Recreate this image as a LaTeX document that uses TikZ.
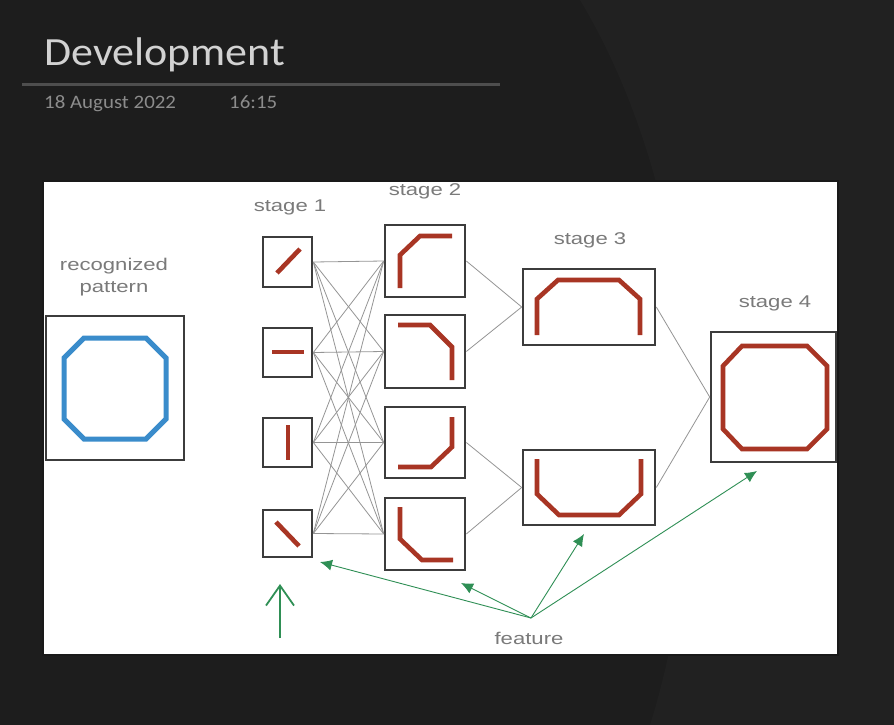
\documentclass[tikz,border=0pt]{standalone}
\usepackage{fontspec}
\setmainfont{Liberation Sans}
\newfontfamily\titlefont{Carlito}
\newfontfamily\labelfont{Liberation Sans}
\usetikzlibrary{arrows.meta}
\definecolor{bgdark}{HTML}{1D1D1D}
\definecolor{bgarc}{HTML}{212121}
\definecolor{titlegray}{HTML}{D2D2D2}
\definecolor{dategray}{HTML}{8C8C8C}
\definecolor{rulegray}{HTML}{4E4E4E}
\definecolor{boxgray}{HTML}{3C3C3C}
\definecolor{linkgray}{HTML}{959595}
\definecolor{labelgray}{HTML}{7A7A7A}
\definecolor{glyphred}{HTML}{A83524}
\definecolor{patblue}{HTML}{3A8CCB}
\definecolor{featgreen}{HTML}{2F8F55}
\tikzset{
  box/.style={draw=boxgray, line width=2.6pt, inner sep=0pt, fill=white, rectangle},
  link/.style={draw=linkgray, line width=0.8pt},
  glyph/.style={draw=glyphred, line width=4.6pt, line join=miter},
  lbl/.style={text=labelgray, font=\fontsize{17}{19}\selectfont\labelfont, xscale=1.3, inner sep=0pt},
  feat/.style={draw=featgreen, line width=0.9pt, -{Latex[length=12pt,width=11pt]}},
}
\begin{document}
\begin{tikzpicture}[x=1pt,y=-1pt]
\useasboundingbox (0,0) rectangle (894,725);
\fill[bgdark] (0,0) rectangle (894,725);
\fill[bgarc] (580,0) .. controls (700,200) and (720,500) .. (650,725) -- (894,725) -- (894,0) -- cycle;
% title area
\node[anchor=base west, inner sep=0pt, text=titlegray, font=\fontsize{40}{44}\selectfont\titlefont, xscale=1.1] (title) at (44,66) {Development};
\draw[rulegray, line width=3pt] (22,84) -- (500,84);
\node[anchor=base west, inner sep=0pt, text=dategray, font=\fontsize{19}{21}\selectfont\titlefont, xscale=1.1] (date) at (44,108) {18 August 2022};
\node[anchor=base west, inner sep=0pt, text=dategray, font=\fontsize{19}{21}\selectfont\titlefont, xscale=1.1] (time) at (229,108) {16:15};
% white panel
\fill[white, draw=black!90, line width=1.5pt] (43,181) rectangle (838,655);
% boxes
\node[box, minimum width=138pt, minimum height=144pt] (rp) at (115,388) {};
\node[box, minimum width=49pt, minimum height=50pt] (s1a) at (287.5,262) {};
\node[box, minimum width=49pt, minimum height=49pt] (s1b) at (287.5,352.5) {};
\node[box, minimum width=49pt, minimum height=49pt] (s1c) at (287.5,442.5) {};
\node[box, minimum width=49pt, minimum height=47pt] (s1d) at (287.5,533.5) {};
\node[box, minimum width=80pt, minimum height=72pt] (s2a) at (425,261) {};
\node[box, minimum width=80pt, minimum height=73pt] (s2b) at (425,351.5) {};
\node[box, minimum width=80pt, minimum height=71pt] (s2c) at (425,442.5) {};
\node[box, minimum width=80pt, minimum height=72pt] (s2d) at (425,534) {};
\node[box, minimum width=132pt, minimum height=76pt] (s3a) at (589,307) {};
\node[box, minimum width=132pt, minimum height=75pt] (s3b) at (589,487.5) {};
\node[box, minimum width=125pt, minimum height=130pt] (s4) at (773.5,397) {};
% links stage1 -> stage2
\foreach \a in {s1a,s1b,s1c,s1d}{
  \foreach \b in {s2a,s2b,s2c,s2d}{
    \draw[link] (\a.east) -- (\b.west);
  }
}
\draw[link] (s2a.east) -- (s3a.west);
\draw[link] (s2b.east) -- (s3a.west);
\draw[link] (s2c.east) -- (s3b.west);
\draw[link] (s2d.east) -- (s3b.west);
\draw[link] (s3a.east) -- (s4.west);
\draw[link] (s3b.east) -- (s4.west);
% labels
\node[lbl] (l1) at (290,207) {stage 1};
\node[lbl] (l2) at (425,191) {stage 2};
\node[lbl] (l3) at (590,240) {stage 3};
\node[lbl] (l4) at (775,303) {stage 4};
\node[lbl] (lr1) at (114,266) {recognized};
\node[lbl] (lr2) at (114,289) {pattern};
\node[lbl] (lf) at (529,638) {feature};
% recognized pattern octagon
\draw[patblue, line width=5pt, line join=miter]
  (84,338) -- (146,338) -- (166,358) -- (166,419) -- (146,439) -- (84,439) -- (64,419) -- (64,358) -- cycle;
% stage 1 glyphs
\draw[glyph] (277,273) -- (300,249);
\draw[glyph] (272,352) -- (304,352);
\draw[glyph] (288,425) -- (288,460);
\draw[glyph] (276,522) -- (299,546);
% stage 2 glyphs
\draw[glyph] (400,288) -- (400,255) -- (420,236) -- (452,236);
\draw[glyph] (398,325) -- (430,325) -- (452,347) -- (452,380);
\draw[glyph] (452,417) -- (452,447) -- (431,467) -- (398,467);
\draw[glyph] (400,507) -- (400,539) -- (422,560) -- (453,560);
% stage 3 glyphs
\draw[glyph] (537,335) -- (537,299) -- (558,280) -- (619,280) -- (640,299) -- (640,335);
\draw[glyph] (537,459) -- (537,494) -- (559,515) -- (619,515) -- (641,494) -- (641,459);
% stage 4 octagon
\draw[glyph] (742,346) -- (807,346) -- (827,366) -- (827,429) -- (807,449) -- (742,449) -- (723,429) -- (723,366) -- cycle;
% feature arrows
\coordinate (f) at (531,618);
\coordinate (t1) at (320,562);
\coordinate (t2) at (461,583);
\coordinate (t3) at (584,534);
\coordinate (t4) at (757,471);
\draw[feat] (f) -- (t1);
\draw[feat] (f) -- (t2);
\draw[feat] (f) -- (t3);
\draw[feat] (f) -- (t4);
% up arrow
\coordinate (ua) at (280,638);
\coordinate (ub) at (280,584);
\draw[featgreen, line width=1.8pt, -{Straight Barb[length=20pt,width=28pt,line width=1.8pt]}] (ua) -- (ub);
\end{tikzpicture}
\end{document}
